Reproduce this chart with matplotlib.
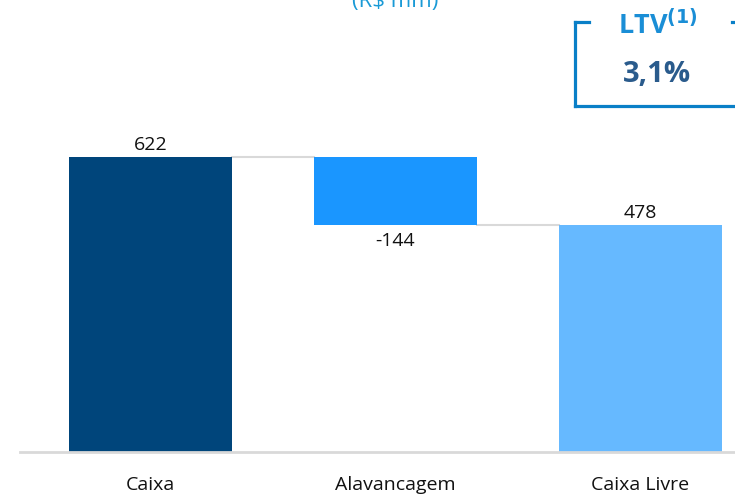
import matplotlib.pyplot as plt
from matplotlib.lines import Line2D

# waterfall data (R$ mm)
categories = ["Caixa", "Alavancagem", "Caixa Livre"]
values = [622, -144, 478]
kinds = ["total", "delta", "total"]
bar_colors = ["#00457b", "#1a96ff", "#66b9ff"]
ltv_label = "LTV"
ltv_value = "3,1%"

plt.rcParams['font.family'] = ['Open Sans', 'DejaVu Sans']

W, H = 735, 497
fig = plt.figure(figsize=(W / 100, H / 100), dpi=100)

# axes: baseline at 452px, runs off the right edge like the original slide
left_px, right_px = 20, 763
ax = fig.add_axes([left_px / W, (H - 452) / H, (right_px - left_px) / W, 452 / H])
ax.set_xlim(-0.5 - 8 / 245, 2.5)
ax.set_ylim(0, 452 / (295 / 622))

bottoms = []
tops = []
running = 0
for v, k in zip(values, kinds):
    if k == "total":
        b, t = 0, v
        running = v
    else:
        new = running + v
        b, t = min(running, new), max(running, new)
        running = new
    bottoms.append(b)
    tops.append(t)

xs = list(range(len(categories)))
width = 0.665
ax.bar(xs, [t - b for t, b in zip(tops, bottoms)], bottom=bottoms,
       width=width, color=bar_colors, zorder=2)

# connectors
levels = []
running = 0
for v, k in zip(values, kinds):
    running = v if k == "total" else running + v
    levels.append(running)
for i in range(len(xs) - 1):
    ax.plot([xs[i] + width / 2, xs[i + 1] - width / 2], [levels[i], levels[i]],
            color="#d9d9d9", lw=1.5, zorder=1)

# value labels
for i, (v, k) in enumerate(zip(values, kinds)):
    if v >= 0:
        ax.text(xs[i], tops[i] + 7, f"{v}", ha="center", va="bottom",
                fontsize=14, color="#111111")
    else:
        ax.text(xs[i], bottoms[i] - 14, f"{v}", ha="center", va="top",
                fontsize=14, color="#111111")

for s in ["top", "right", "left"]:
    ax.spines[s].set_visible(False)
ax.spines["bottom"].set_color("#d9d9d9")
ax.spines["bottom"].set_linewidth(2)
ax.set_yticks([])
ax.set_xticks(xs)
ax.set_xticklabels(categories, fontsize=14, color="#111111")
ax.tick_params(axis="x", length=0, pad=17.5)

# clipped subtitle at the top
fig.text(395 / W, 1 - 2 / H, "(R$ mm)", ha="center", va="center",
         fontsize=16, color="#1a9ad6")

# LTV bracket box
def px(x, y):
    return x / W, 1 - y / H

box_c = "#0a7fc7"
for (x0, y0), (x1, y1) in [((575, 22), (575, 106)), ((575, 22), (589, 22)),
                           ((575, 106), (735, 106)), ((732, 22), (735, 22))]:
    a, b = px(x0, y0)
    c, d = px(x1, y1)
    fig.add_artist(Line2D([a, c], [b, d], color=box_c, lw=2.3,
                          solid_capstyle="projecting", transform=fig.transFigure))

fig.text(*px(658, 25), ltv_label + r"$^{\mathbf{(1)}}$", ha="center", va="center",
         fontsize=19.5, fontweight="bold", color="#1a8ed6")
fig.text(*px(657, 74), ltv_value, ha="center", va="center",
         fontsize=21, fontweight="bold", color="#2a5b8c")

fig.savefig("out.png", dpi=100)
